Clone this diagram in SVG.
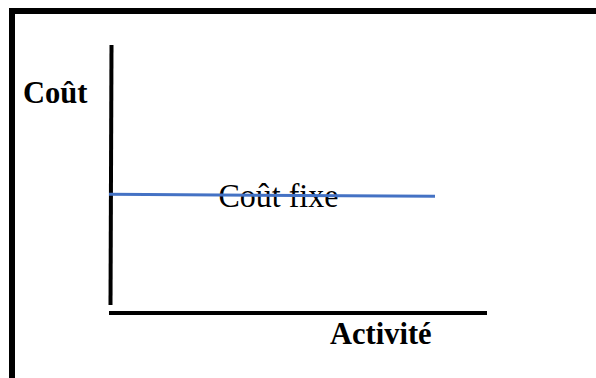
<svg xmlns="http://www.w3.org/2000/svg" width="596" height="378" viewBox="0 0 596 378">
<style>
.ax{stroke:#000;stroke-width:4;fill:none}
.frame{stroke:#000;stroke-width:6;fill:none}
.lbl{font-family:"Liberation Serif","Times New Roman",serif;fill:#000}
.b{font-weight:bold}
</style>
<rect width="596" height="378" fill="#fff"/>
<g id="frame">
<path class="frame" d="M12 378 V11 H596"/>
</g>
<g id="connectors">
<line class="ax" x1="111.5" y1="45" x2="110.5" y2="305"/>
<line class="ax" x1="109" y1="313" x2="487" y2="313"/>
</g>
<g id="label-cout"><text class="lbl b" x="23" y="103" font-size="30.5">Coût</text></g>
<g id="label-cout-fixe"><text class="lbl" x="218.5" y="207.5" font-size="32" transform="translate(0 207.5) scale(1 1.08) translate(0 -207.5)">Coût fixe</text></g>
<g id="cost-line"><line x1="109" y1="194.3" x2="435" y2="196.3" stroke="#4472C4" stroke-width="3"/></g>
<g id="label-activite"><text class="lbl b" x="330" y="343.5" font-size="30.5">Activité</text></g>
</svg>
